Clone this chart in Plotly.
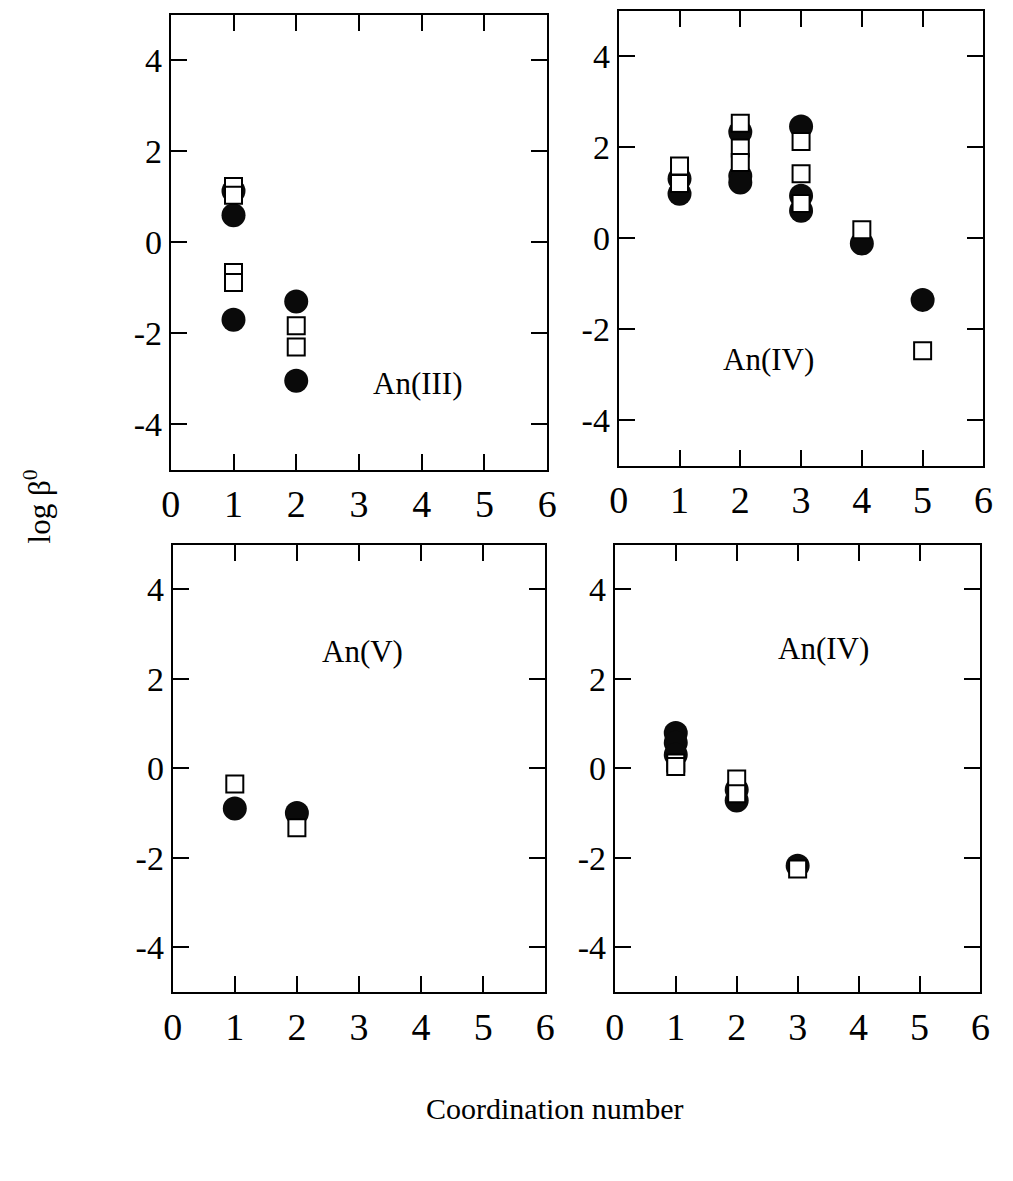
import plotly.graph_objects as go

# log beta0 versus coordination number, filled circles and open squares per oxidation state
# Panel A: An(III)
an3_circle_cn = [1, 1, 1, 2, 2]
an3_circle_lb = [1.12, 0.59, -1.71, -1.31, -3.05]
an3_square_cn = [1, 1, 1, 1, 2, 2]
an3_square_lb = [1.22, 1.03, -0.67, -0.89, -1.84, -2.31]

# Panel B: An(IV)
an4a_circle_cn = [1, 1, 2, 2, 2, 3, 3, 3, 4, 5]
an4a_circle_lb = [1.30, 0.97, 2.33, 1.36, 1.22, 2.45, 0.93, 0.60, -0.12, -1.36]
an4a_square_cn = [1, 1, 2, 2, 2, 3, 3, 3, 4, 5]
an4a_square_lb = [1.58, 1.20, 2.52, 1.98, 1.66, 2.12, 1.41, 0.76, 0.18, -2.48]

# Panel C: An(V)
an5_circle_cn = [1, 2]
an5_circle_lb = [-0.90, -1.00]
an5_square_cn = [1, 2]
an5_square_lb = [-0.35, -1.33]

# Panel D: An(IV)
an4b_circle_cn = [1, 1, 1, 2, 2, 3]
an4b_circle_lb = [0.79, 0.57, 0.30, -0.48, -0.72, -2.18]
an4b_square_cn = [1, 1, 2, 2, 3]
an4b_square_lb = [0.12, 0.04, -0.24, -0.57, -2.25]

panel_labels = ["An(III)", "An(IV)", "An(V)", "An(IV)"]
label_pos = [(3.94, -3.1), (2.46, -2.68), (3.06, 2.6), (3.42, 2.68)]

x_ticks = [0, 1, 2, 3, 4, 5, 6]
y_ticks = [-4, -2, 0, 2, 4]

panels = [
    (an3_circle_cn, an3_circle_lb, an3_square_cn, an3_square_lb),
    (an4a_circle_cn, an4a_circle_lb, an4a_square_cn, an4a_square_lb),
    (an5_circle_cn, an5_circle_lb, an5_square_cn, an5_square_lb),
    (an4b_circle_cn, an4b_circle_lb, an4b_square_cn, an4b_square_lb),
]

W, H = 1013, 1181
# pixel frames of the four plot boxes: (left, right, top, bottom)
frames = [
    (164, 548, 14.5, 469.5),
    (621, 993, 10.5, 465.5),
    (166, 546, 544.5, 992),
    (617, 990, 544.5, 992),
]

FONT = "Liberation Serif, Times New Roman, serif"

fig = go.Figure()
layout = {}
for i, (ccn, clb, scn, slb) in enumerate(panels):
    n = i + 1
    xa = "x" if n == 1 else f"x{n}"
    ya = "y" if n == 1 else f"y{n}"
    fig.add_trace(go.Scatter(
        x=ccn, y=clb, mode="markers", xaxis=xa, yaxis=ya,
        marker=dict(symbol="circle", size=24, color="#0a0a0a",
                    line=dict(width=0)),
        showlegend=False, cliponaxis=False))
    fig.add_trace(go.Scatter(
        x=scn, y=slb, mode="markers", xaxis=xa, yaxis=ya,
        marker=dict(symbol="square", size=17, color="white",
                    line=dict(width=2, color="black")),
        showlegend=False, cliponaxis=False))
    l, r, t, b = frames[i]
    axcommon = dict(
        showline=True, linecolor="black", linewidth=2, mirror="ticks",
        ticks="inside", ticklen=16, tickwidth=2, tickcolor="black",
        showgrid=False, zeroline=False, fixedrange=True,
    )
    layout["xaxis" if n == 1 else f"xaxis{n}"] = dict(
        axcommon, domain=[l / W, r / W], range=[0, 6],
        tickfont=dict(family=FONT, size=38, color="black"),
        tickmode="array", tickvals=x_ticks, ticktext=[str(v) for v in x_ticks],
        anchor=ya)
    layout["yaxis" if n == 1 else f"yaxis{n}"] = dict(
        axcommon, domain=[1 - b / H, 1 - t / H], range=[-5, 5],
        tickfont=dict(family=FONT, size=34, color="black"),
        tickmode="array", tickvals=y_ticks, ticktext=[str(v) for v in y_ticks],
        anchor=xa)

fig.update_layout(**layout)

annotations = []
for i, (txt, (ax, ay)) in enumerate(zip(panel_labels, label_pos)):
    n = i + 1
    annotations.append(dict(
        x=ax, y=ay, xref="x" if n == 1 else f"x{n}", yref="y" if n == 1 else f"y{n}",
        text=txt, showarrow=False, xanchor="center", yanchor="middle",
        font=dict(family=FONT, size=31, color="black")))

annotations.append(dict(
    x=28 / W, y=1 - 506 / H, xref="paper", yref="paper",
    xanchor="center", yanchor="middle",
    text="log β<sup>0</sup>", textangle=-90, showarrow=False,
    font=dict(family=FONT, size=31, color="black")))
annotations.append(dict(
    x=555 / W, y=1 - 1108 / H, xref="paper", yref="paper",
    xanchor="center", yanchor="middle",
    text="Coordination number", showarrow=False,
    font=dict(family=FONT, size=30, color="black")))

fig.update_layout(
    width=W, height=H,
    margin=dict(l=0, r=0, t=0, b=0),
    paper_bgcolor="white", plot_bgcolor="white",
    annotations=annotations,
    font=dict(family=FONT, color="black"),
)

fig.write_html("out.html")
